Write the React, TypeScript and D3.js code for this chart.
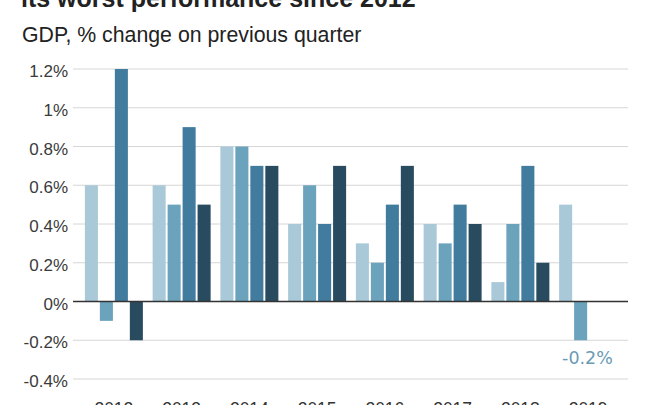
import { useMemo } from 'react';
import * as d3 from 'd3';

// Quarterly GDP growth, % change on previous quarter
const years = ['2012', '2013', '2014', '2015', '2016', '2017', '2018', '2019'];
const quarters = ['Q1', 'Q2', 'Q3', 'Q4'];
const growth2012 = [0.6, -0.1, 1.2, -0.2];
const growth2013 = [0.6, 0.5, 0.9, 0.5];
const growth2014 = [0.8, 0.8, 0.7, 0.7];
const growth2015 = [0.4, 0.6, 0.4, 0.7];
const growth2016 = [0.3, 0.2, 0.5, 0.7];
const growth2017 = [0.4, 0.3, 0.5, 0.4];
const growth2018 = [0.1, 0.4, 0.7, 0.2];
const growth2019 = [0.5, -0.2];
const yTicks = [-0.4, -0.2, 0, 0.2, 0.4, 0.6, 0.8, 1, 1.2];
const quarterColors = ['#a9c9d9', '#6ba3bd', '#417b9e', '#284b60'];

const FONT = 'Helvetica, Arial, "Liberation Sans", sans-serif';

// plain hyphen, no unicode minus
const fmt = (d: number) => `${d < 0 ? '-' : ''}${d3.format('~g')(+Math.abs(d).toFixed(1))}%`;

export default function App() {
  const width = 655;
  const height = 405;

  const bars = useMemo(() => {
    const all = [growth2012, growth2013, growth2014, growth2015, growth2016, growth2017, growth2018, growth2019];
    return all.flatMap((vals, i) => vals.map((v, q) => ({ year: years[i], q: quarters[q], qi: q, value: v })));
  }, []);

  const x = d3.scaleBand<string>().domain(years).range([80, 622]).paddingInner(0.144).paddingOuter(0.072);
  const xq = d3.scaleBand<string>().domain(quarters).range([0, x.bandwidth()]).paddingInner(0.13).paddingOuter(0);
  const y = d3.scaleLinear().domain([-0.4, 1.2]).range([379, 69]);

  const last = bars[bars.length - 1];
  const lastX = (x(last.year) ?? 0) + (xq(last.q) ?? 0);

  return (
    <svg width={width} height={height} style={{ position: 'absolute', left: 0, top: 0, background: '#fff' }} fontFamily={FONT}>
      <text x={21} y={7} fontSize={25} fontWeight="bold" fill="#222">its worst performance since 2012</text>
      <text x={22} y={42} fontSize={21.3} fill="#222">GDP, % change on previous quarter</text>

      {yTicks.map((t) => (
        <g key={t}>
          <line x1={73} x2={628} y1={y(t)} y2={y(t)} stroke="#d6d6d6" strokeWidth={1} />
          <text x={68} y={y(t) + 8} textAnchor="end" fontSize={17} fill="#3a3a3a">{fmt(t)}</text>
        </g>
      ))}

      {bars.map((b) => {
        const bx = (x(b.year) ?? 0) + (xq(b.q) ?? 0);
        return (
          <rect
            key={b.year + b.q}
            x={bx}
            y={y(Math.max(0, b.value))}
            width={xq.bandwidth()}
            height={Math.abs(y(b.value) - y(0))}
            fill={quarterColors[b.qi]}
          />
        );
      })}

      <line x1={73} x2={628} y1={y(0)} y2={y(0)} stroke="#333" strokeWidth={1.5} />

      {years.map((yr) => (
        <text key={yr} x={(x(yr) ?? 0) + x.bandwidth() / 2} y={415} textAnchor="middle" fontSize={17.5} fill="#333">{yr}</text>
      ))}

      <text
        x={lastX - 12}
        y={364}
        fontFamily='"DejaVu Sans", sans-serif'
        fontSize={17.5}
        fill="#6a9bb5"
      >
        {fmt(last.value)}
      </text>
    </svg>
  );
}
